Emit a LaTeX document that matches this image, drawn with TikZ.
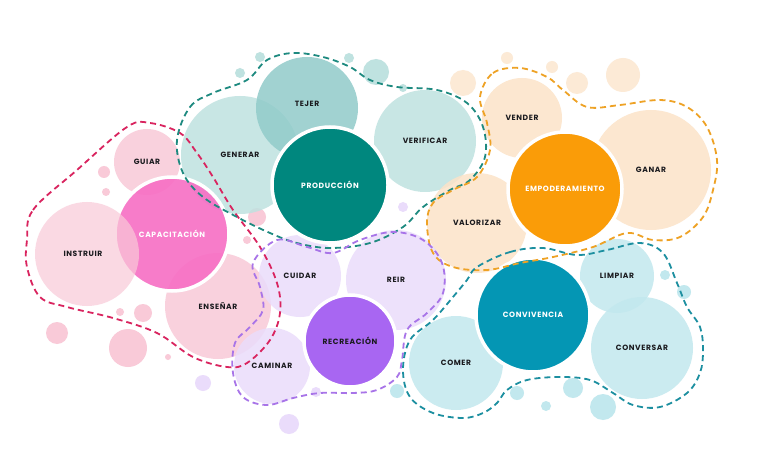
\documentclass[tikz,border=0pt]{standalone}
\usepackage{fontspec}
\usepackage{tikz}
\usepackage{xcolor}
\setmainfont{Poppins}
\newfontfamily\lblfont[LetterSpace=8]{Poppins}
\definecolor{pinkhub}{RGB}{247,110,196}
\definecolor{pinkleaf}{RGB}{249,202,216}
\definecolor{pinkdash}{RGB}{217,36,95}
\definecolor{tealhub}{RGB}{0,135,126}
\definecolor{tealmid}{RGB}{145,203,202}
\definecolor{tealleaf}{RGB}{191,226,224}
\definecolor{tealdash}{RGB}{30,138,128}
\definecolor{orangehub}{RGB}{250,156,8}
\definecolor{orangeleaf}{RGB}{252,227,200}
\definecolor{orangedot}{RGB}{252,234,214}
\definecolor{orangedash}{RGB}{238,162,37}
\definecolor{purplehub}{RGB}{168,102,242}
\definecolor{purpleleaf}{RGB}{234,220,251}
\definecolor{purpledash}{RGB}{168,116,232}
\definecolor{bluehub}{RGB}{4,150,180}
\definecolor{blueleaf}{RGB}{194,232,238}
\definecolor{bluedash}{RGB}{28,143,160}
\definecolor{labeldark}{RGB}{26,26,30}

\begin{document}
\begin{tikzpicture}[
  x=1pt, y=-1pt,
  font=\lblfont\bfseries\fontsize{7.6}{9}\selectfont,
  hub/.style={circle, draw=white, line width=3.5pt, minimum size=#1, inner sep=0pt, text=white, text opacity=1},
  leaf/.style={circle, minimum size=#1, inner sep=0pt, fill opacity=.85, text opacity=1, text=labeldark},
  ring/.style={line width=1.8pt, dash pattern=on 6pt off 4pt, smooth cycle, tension=.6}
]
\useasboundingbox[fill=white] (0,0) rectangle (759,454);
% small bubbles
\foreach \x/\y/\r/\c in {104/172/6/pinkleaf, 106/192/4/pinkleaf, 57/333/11/pinkleaf, 128/348/19/pinkleaf,
    143/313/9/pinkleaf, 120/312/4/pinkleaf, 257/217/9/pinkleaf, 247/240/4/pinkleaf, 168/357/3/pinkleaf,
    260/57/5/tealleaf, 240/73/5/tealleaf, 349/58/5/tealleaf, 376/72/13/tealleaf, 403/88/4/tealleaf,
    463/83/13/orangedot, 507/58/6/orangedot, 552/67/6/orangedot, 577/83/11/orangedot, 623/75/17/orangedot,
    403/207/5/purpleleaf, 289/424/10/purpleleaf, 316/392/5/purpleleaf, 203/383/8/purpleleaf,
    397/391/7/blueleaf, 573/388/10/blueleaf, 517/393/7/blueleaf, 546/406/5/blueleaf, 603/407/13/blueleaf,
    665/275/5/blueleaf, 684/292/7/blueleaf}
  \fill[\c] (\x,\y) circle[radius=\r];

% leaves
\node[leaf=118pt, fill=tealleaf] (generar) at (240,155) {GENERAR};
\node[leaf=102pt, fill=tealmid] (tejer) at (307,108) {\raisebox{8pt}{TEJER}};
\node[leaf=102pt, fill=tealleaf] (verificar) at (425,141) {VERIFICAR};
\node[leaf=80pt, fill=orangeleaf] (vender) at (522,118) {VENDER};
\node[leaf=120pt, fill=orangeleaf] (ganar) at (651,170) {GANAR};
\node[leaf=100pt, fill=orangeleaf] (valorizar) at (477,223) {VALORIZAR};
\node[leaf=66pt, fill=pinkleaf] (guiar) at (147,162) {GUIAR};
\node[leaf=106pt, fill=pinkleaf] (ensenar) at (218,306) {ENSEÑAR};
\node[leaf=82pt, fill=purpleleaf] (cuidar) at (300,276) {CUIDAR};
\node[leaf=100pt, fill=purpleleaf] (reir) at (396,280) {\raisebox{-2pt}{REIR}};
\node[leaf=76pt, fill=purpleleaf] (caminar) at (272,366) {CAMINAR};
\node[leaf=74pt, fill=blueleaf] (limpiar) at (617,276) {LIMPIAR};
\node[leaf=102pt, fill=blueleaf] (conversar) at (642,348) {CONVERSAR};
\node[leaf=94pt, fill=blueleaf] (comer) at (456,363) {COMER};

% hubs
\node[hub=114pt, fill=pinkhub, fill opacity=.9] (capacitacion) at (172,234) {CAPACITACIÓN};
\node[leaf=104pt, fill=pinkleaf, fill opacity=.7] (instruir) at (87,254) {\hspace*{-8pt}INSTRUIR};
\node[hub=116pt, fill=tealhub] (produccion) at (330,185) {PRODUCCIÓN};
\node[hub=114pt, fill=orangehub] (empoderamiento) at (565,189) {EMPODERAMIENTO};
\node[hub=92pt, fill=purplehub, text=labeldark] (recreacion) at (350,341) {RECREACIÓN};
\node[hub=114pt, fill=bluehub] (convivencia) at (533,315) {CONVIVENCIA};

% dashed outlines
\draw[ring, pinkdash] plot coordinates {(27,240) (33,210) (77,170) (127,127) (150,123) (180,133) (197,153)
  (213,177) (233,210) (260,247) (277,283) (280,313) (270,340) (247,363) (227,367) (193,357) (157,333)
  (113,318) (67,307) (40,297) (27,267)};
\draw[ring, tealdash] plot coordinates {(177,140) (190,107) (213,93) (247,80) (267,60) (293,53) (323,57)
  (350,67) (370,80) (397,87) (437,90) (467,103) (483,127) (485,157) (470,180) (450,190) (423,207)
  (403,227) (370,243) (330,248) (297,243) (270,233) (237,217) (203,197) (183,173)};
\draw[ring, orangedash] plot coordinates {(480,97) (493,73) (520,68) (547,77) (563,90) (587,107) (620,105)
  (660,100) (687,107) (707,127) (717,160) (713,190) (703,217) (680,237) (653,240) (627,233) (593,247)
  (553,257) (520,263) (487,270) (453,267) (433,253) (427,223) (433,203) (453,190) (477,177) (490,150)
  (487,123)};
\draw[ring, purpledash] plot coordinates {(253,263) (277,240) (307,247) (333,253) (360,240) (393,232)
  (423,240) (442,263) (443,293) (427,313) (407,330) (402,360) (397,377) (377,390) (353,393) (320,393)
  (293,398) (267,405) (243,397) (233,373) (235,343) (250,327) (263,310) (260,287)};
\draw[ring, bluedash] plot coordinates {(477,267) (510,252) (543,248) (577,255) (607,250) (640,243)
  (663,253) (677,283) (687,307) (700,327) (703,350) (700,373) (687,393) (660,407) (633,405) (613,393)
  (590,380) (560,377) (527,380) (507,390) (497,403) (483,413) (463,418) (433,413) (410,397) (403,370)
  (410,340) (433,320) (453,297) (467,280)};
\end{tikzpicture}
\end{document}
